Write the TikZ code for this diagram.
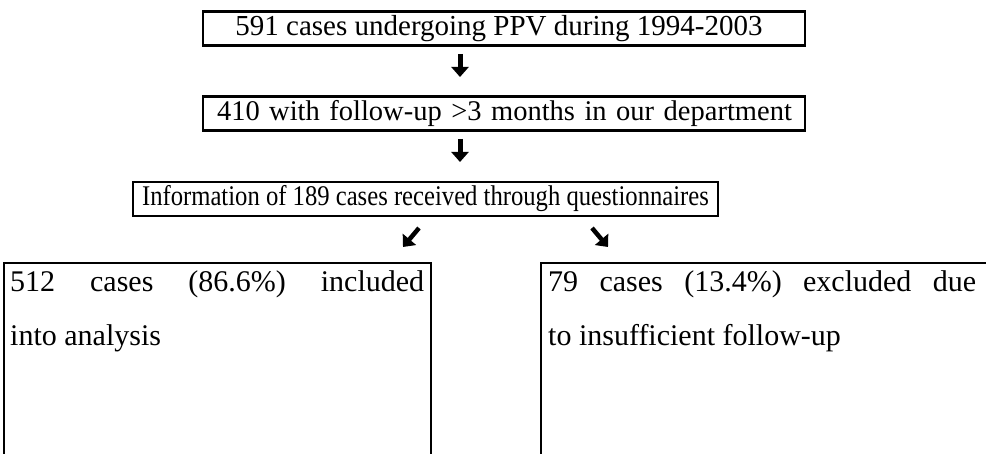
\documentclass[tikz,border=0pt]{standalone}
\usepackage{fontspec}
\setmainfont{Liberation Serif}
\usetikzlibrary{arrows.meta}
\usetikzlibrary{positioning}

\tikzset{
  flowbox/.style={draw, line width=2.2pt, inner sep=0pt, minimum height=34pt},
  boxtext/.style={inner sep=0pt, anchor=north west, align=justify, font=\fontsize{30}{54}\selectfont},
  bigarrow/.style={line width=5pt, -{Triangle[width=17pt,length=10pt]}},
}

\begin{document}
\begin{tikzpicture}[x=1pt, y=-1pt, font=\fontsize{29}{34}\selectfont]
\useasboundingbox (0,0) rectangle (986,454);

% three stacked boxes
\node[flowbox, minimum width=602pt] (ppv) at (504,28.5) {\hspace*{-10pt}591 cases undergoing PPV during 1994-2003};
\node[flowbox, minimum width=602pt, text width=574pt, align=left, font=\fontsize{28.5}{34}\selectfont] (followup) at (504,113.5) {\mbox{410 with follow-up >3 months in our department}};
\node[flowbox, minimum width=585pt, font=\fontsize{28.5}{34}\selectfont] (questionnaire) at (425.5,199) {\scalebox{0.865}[1]{Information of 189 cases received through questionnaires}};

% the two result boxes run off the bottom
\node[flowbox, anchor=north west, minimum width=427pt, minimum height=230pt] (included) at (3,262) {};
\node[flowbox, anchor=north west, minimum width=470pt, minimum height=230pt] (excluded) at (540,262) {};
\node[boxtext, text width=414pt] (includedtxt) at ([xshift=7pt,yshift=-8pt]included.north west) {512 cases (86.6\%) included\linebreak into analysis};
\node[boxtext, text width=428pt] (excludedtxt) at ([xshift=8pt,yshift=-8pt]excluded.north west) {79 cases (13.4\%) excluded due\linebreak to insufficient follow-up};

% block arrows
\coordinate (a1s) at (460,54);  \coordinate (a1e) at (460,77);
\coordinate (a2s) at (460,139); \coordinate (a2e) at (460,162);
\coordinate (a3s) at (419,228); \coordinate (a3e) at (403,247);
\coordinate (a4s) at (592,228); \coordinate (a4e) at (608,247);
\draw[bigarrow] (a1s) -- (a1e);
\draw[bigarrow] (a2s) -- (a2e);
\draw[bigarrow, line width=4.5pt] (a3s) -- (a3e);
\draw[bigarrow, line width=4.5pt] (a4s) -- (a4e);

\end{tikzpicture}
\end{document}
